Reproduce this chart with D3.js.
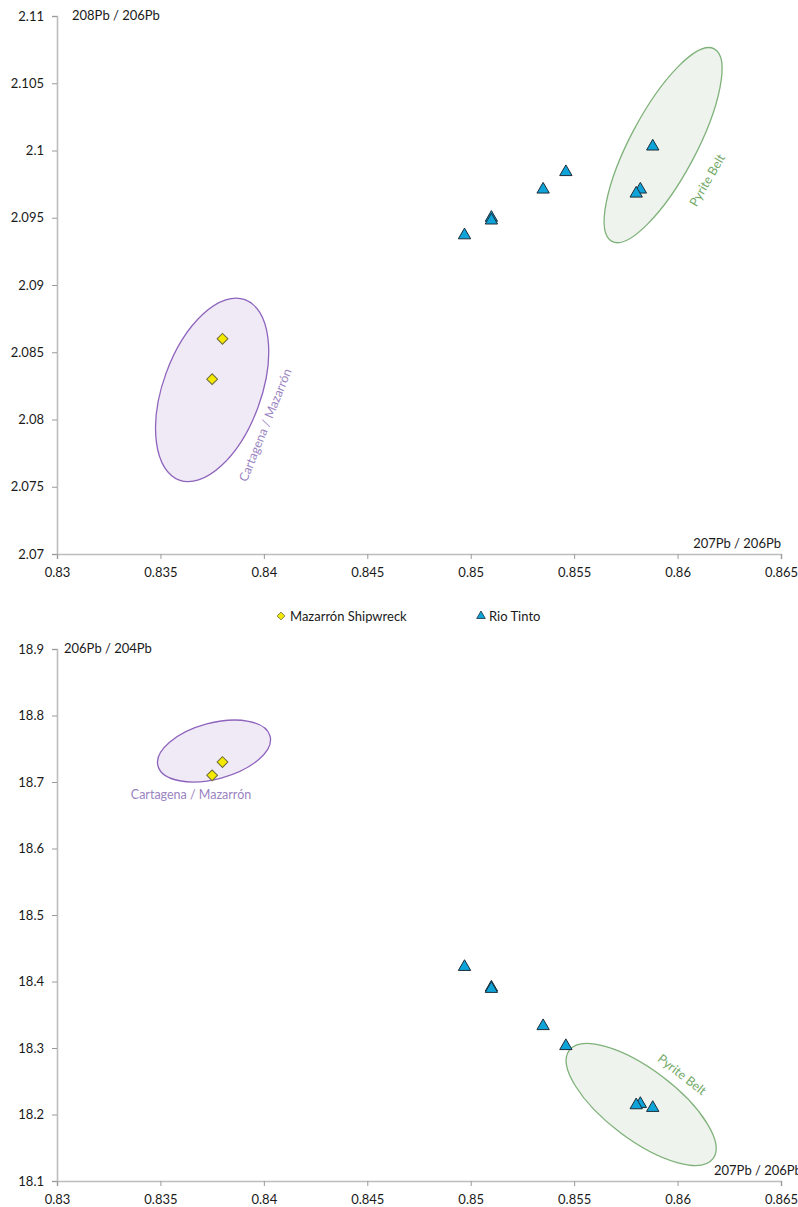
<!DOCTYPE html>
<html>
<head>
<meta charset="utf-8">
<script src="https://cdn.jsdelivr.net/npm/d3@7"></script>
<style>
  html, body { margin: 0; padding: 0; background: #fff; }
  svg { display: block; font-family: Lato, "Open Sans", "Liberation Sans", sans-serif; }
</style>
</head>
<body>
<svg id="chart" width="798" height="1207"></svg>
<script>
// Lead isotope ratios
const xTicks = [0.83, 0.835, 0.84, 0.845, 0.85, 0.855, 0.86, 0.865];
const yTicksTop = [2.07, 2.075, 2.08, 2.085, 2.09, 2.095, 2.1, 2.105, 2.11];
const yTicksBottom = [18.1, 18.2, 18.3, 18.4, 18.5, 18.6, 18.7, 18.8, 18.9];

// Mazarrón shipwreck samples
const mazarron207_206 = [0.838, 0.8375];
const mazarron208_206 = [2.086, 2.083];
const mazarron206_204 = [18.73, 18.71];

// Rio Tinto samples
const rioTinto207_206 = [0.8497, 0.8510, 0.8510, 0.8535, 0.8546, 0.8588, 0.8582, 0.8580];
const rioTinto208_206 = [2.0937, 2.0950, 2.0948, 2.0971, 2.0984, 2.1003, 2.0971, 2.0968];
const rioTinto206_204 = [18.422, 18.391, 18.389, 18.333, 18.303, 18.210, 18.216, 18.214];

const seriesNames = ["Mazarrón Shipwreck", "Rio Tinto"];

// Ore-field envelopes (centres in data units)
const fieldNames = ["Cartagena / Mazarrón", "Pyrite Belt"];
const fieldCentreX_top = [0.8375, 0.8593];
const fieldCentreY_top = [2.0822, 2.1004];
const fieldCentreX_bottom = [0.83759, 0.85824];
const fieldCentreY_bottom = [18.7466, 18.215];

const svg = d3.select("#chart");

const fieldStyle = [
  { fill: "#efeaf5", stroke: "#8e63bd", text: "#9a84c2" },
  { fill: "#eef3ed", stroke: "#7fb27a", text: "#74a96a" }
];
const triFill = "#0ea4da", triStroke = "#1d2d38";
const diaFill = "#f4ea00", diaStroke = "#6e6a3a";

function panel(opts) {
  const g = svg.append("g");
  const x = d3.scaleLinear().domain([0.83, 0.865]).range([57, 781]);
  const y = d3.scaleLinear().domain(opts.yDomain).range([opts.yBottom, opts.yTop]);

  // envelopes
  opts.fields.forEach((f, i) => {
    const cx = x(f.cx), cy = y(f.cy);
    g.append("ellipse")
      .attr("cx", 0).attr("cy", 0)
      .attr("rx", f.rx).attr("ry", f.ry)
      .attr("transform", `translate(${cx},${cy}) rotate(${f.rot})`)
      .attr("fill", fieldStyle[f.style].fill)
      .attr("stroke", fieldStyle[f.style].stroke)
      .attr("stroke-width", 1.3);
    g.append("text")
      .attr("transform", `translate(${cx + f.lx},${cy + f.ly}) rotate(${f.lrot})`)
      .attr("text-anchor", "middle")
      .attr("dominant-baseline", "central")
      .attr("font-size", 12.5)
      .attr("fill", fieldStyle[f.style].text)
      .text(fieldNames[f.style]);
  });

  // axes
  const yAxis = d3.axisLeft(y).tickValues(opts.yTicks).tickSize(5).tickPadding(8)
    .tickFormat(d => String(+d.toFixed(3)));
  const xAxis = d3.axisBottom(x).tickValues(xTicks).tickSize(5).tickPadding(9)
    .tickFormat(d => String(+d.toFixed(3)));

  const ya = g.append("g").attr("transform", "translate(57,0)").call(yAxis);
  const xa = g.append("g").attr("transform", `translate(0,${opts.yBottom})`).call(xAxis);
  [ya, xa].forEach(a => {
    a.select(".domain").attr("stroke", "#bdbdbd").attr("stroke-width", 1.6);
    a.selectAll(".tick line").attr("stroke", "#9a9a9a");
    a.selectAll(".tick text").attr("font-size", 13).attr("fill", "#1a1a1a")
      .attr("font-family", "Lato, 'Open Sans', sans-serif");
  });

  // axis titles
  g.append("text").attr("x", opts.yLabelX).attr("y", opts.yTop + 4)
    .attr("font-size", 13).attr("fill", "#1a1a1a").text(opts.yLabel);
  g.append("text").attr("x", opts.xLabelX).attr("y", opts.yBottom - 6)
    .attr("text-anchor", opts.xLabelAnchor)
    .attr("font-size", 13).attr("fill", "#1a1a1a").text("207Pb / 206Pb");

  // Rio Tinto triangles
  const tri = d3.symbol().type(d3.symbolTriangle).size(66);
  g.selectAll("path.rt").data(d3.range(rioTinto207_206.length)).join("path")
    .attr("class", "rt")
    .attr("d", tri)
    .attr("transform", i => `translate(${x(rioTinto207_206[i])},${y(opts.rtY[i])})`)
    .attr("fill", triFill).attr("stroke", triStroke).attr("stroke-width", 1);

  // Mazarrón diamonds
  const dia = d3.symbol().type(d3.symbolSquare).size(58);
  g.selectAll("path.mz").data(d3.range(mazarron207_206.length)).join("path")
    .attr("class", "mz")
    .attr("d", dia)
    .attr("transform", i => `translate(${x(mazarron207_206[i])},${y(opts.mzY[i])}) rotate(45)`)
    .attr("fill", diaFill).attr("stroke", diaStroke).attr("stroke-width", 1);
}

panel({
  yDomain: [2.07, 2.11], yTop: 16, yBottom: 554, yTicks: yTicksTop,
  yLabel: "208Pb / 206Pb", yLabelX: 72,
  xLabelX: 781, xLabelAnchor: "end",
  rtY: rioTinto208_206, mzY: mazarron208_206,
  fields: [
    { style: 0, cx: fieldCentreX_top[0], cy: fieldCentreY_top[0], rx: 96, ry: 49, rot: -70, lx: 53, ly: 35, lrot: -68 },
    { style: 1, cx: fieldCentreX_top[1], cy: fieldCentreY_top[1], rx: 109, ry: 33, rot: -62, lx: 44, ly: 35, lrot: -60 }
  ]
});

panel({
  yDomain: [18.1, 18.9], yTop: 649, yBottom: 1181, yTicks: yTicksBottom,
  yLabel: "206Pb / 204Pb", yLabelX: 64,
  xLabelX: 714, xLabelAnchor: "start",
  rtY: rioTinto206_204, mzY: mazarron206_204,
  fields: [
    { style: 0, cx: fieldCentreX_bottom[0], cy: fieldCentreY_bottom[0], rx: 58, ry: 28, rot: -15, lx: -23, ly: 43, lrot: 0 },
    { style: 1, cx: fieldCentreX_bottom[1], cy: fieldCentreY_bottom[1], rx: 90, ry: 35, rot: 37, lx: 41, ly: -30, lrot: 38 }
  ]
});

// legend
const legend = svg.append("g").attr("transform", "translate(0,616)");
legend.append("path")
  .attr("d", d3.symbol().type(d3.symbolSquare).size(30))
  .attr("transform", "translate(281,0) rotate(45)")
  .attr("fill", diaFill).attr("stroke", diaStroke).attr("stroke-width", 0.8);
legend.append("text").attr("x", 290).attr("y", 0).attr("dominant-baseline", "central")
  .attr("font-size", 13).attr("fill", "#1a1a1a").text(seriesNames[0]);
legend.append("path")
  .attr("d", d3.symbol().type(d3.symbolTriangle).size(32))
  .attr("transform", "translate(481,0)")
  .attr("fill", triFill).attr("stroke", triStroke).attr("stroke-width", 0.8);
legend.append("text").attr("x", 489).attr("y", 0).attr("dominant-baseline", "central")
  .attr("font-size", 13).attr("fill", "#1a1a1a").text(seriesNames[1]);
</script>
</body>
</html>
